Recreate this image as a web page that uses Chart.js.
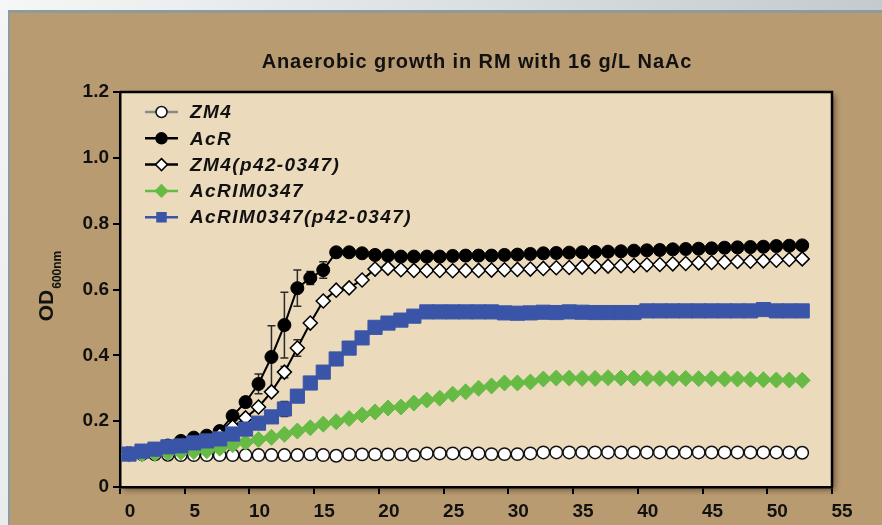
<!DOCTYPE html>
<html>
<head>
<meta charset="utf-8">
<title>Anaerobic growth in RM with 16 g/L NaAc</title>
<script src="https://cdn.jsdelivr.net/npm/chart.js@4.4.0/dist/chart.umd.min.js"></script>
<style>
  html, body { margin: 0; padding: 0; background: #b99b71; }
  #growthChart { display: block; }
</style>
</head>
<body>
<canvas id="growthChart" width="882" height="525"></canvas>
<script>
const hours = [0, 1, 2, 3, 4, 5, 6, 7, 8, 9, 10, 11, 12, 13, 14, 15, 16, 17, 18, 19, 20,
  21, 22, 23, 24, 25, 26, 27, 28, 29, 30, 31, 32, 33, 34, 35, 36, 37, 38, 39, 40,
  41, 42, 43, 44, 45, 46, 47, 48, 49, 50, 51, 52];

const seriesNames = ['ZM4', 'AcR', 'ZM4(p42-0347)', 'AcRIM0347', 'AcRIM0347(p42-0347)'];

const zm4 = [0.100, 0.100, 0.099, 0.098, 0.097, 0.097, 0.097, 0.097, 0.097, 0.097, 0.097,
  0.097, 0.097, 0.097, 0.099, 0.097, 0.095, 0.099, 0.099, 0.099, 0.099, 0.099, 0.097,
  0.102, 0.102, 0.102, 0.102, 0.102, 0.100, 0.100, 0.100, 0.102, 0.105, 0.105, 0.105,
  0.105, 0.105, 0.105, 0.105, 0.105, 0.105, 0.105, 0.105, 0.105, 0.105, 0.105, 0.105,
  0.105, 0.105, 0.105, 0.105, 0.105, 0.104];

const acr = [0.103, 0.109, 0.115, 0.126, 0.140, 0.150, 0.156, 0.170, 0.216, 0.258, 0.313,
  0.395, 0.492, 0.604, 0.635, 0.659, 0.713, 0.713, 0.710, 0.705, 0.703, 0.700, 0.700,
  0.700, 0.700, 0.702, 0.703, 0.703, 0.703, 0.705, 0.706, 0.708, 0.710, 0.711, 0.712,
  0.713, 0.714, 0.715, 0.716, 0.718, 0.719, 0.720, 0.722, 0.723, 0.724, 0.725, 0.727,
  0.728, 0.729, 0.730, 0.732, 0.733, 0.734];
const acrErr = [0, 0, 0, 0, 0, 0, 0, 0, 0.008, 0.015, 0.030, 0.095, 0.100, 0.055, 0.020,
  0.025, 0.013, 0.010, 0.008, 0.006, 0.006, 0.006, 0.006, 0.006, 0.006, 0.006, 0.006,
  0.006, 0.008, 0.008, 0.008, 0.008, 0.008, 0.010, 0.008, 0.008, 0.008, 0.008, 0.008,
  0.010, 0.008, 0.008, 0.006, 0.006, 0.006, 0.006, 0.006, 0.006, 0.006, 0.006, 0.006,
  0.006, 0.006];

const zm4p42 = [0.100, 0.106, 0.112, 0.118, 0.125, 0.132, 0.142, 0.158, 0.182, 0.210, 0.243,
  0.289, 0.349, 0.422, 0.498, 0.565, 0.598, 0.605, 0.629, 0.662, 0.665, 0.660, 0.658,
  0.658, 0.658, 0.657, 0.658, 0.658, 0.659, 0.660, 0.661, 0.662, 0.664, 0.666, 0.667,
  0.668, 0.670, 0.671, 0.672, 0.673, 0.675, 0.676, 0.678, 0.679, 0.681, 0.682, 0.683,
  0.685, 0.686, 0.687, 0.689, 0.691, 0.693];
const zm4p42Err = [0, 0, 0, 0, 0, 0, 0, 0, 0, 0, 0.006, 0.010, 0.017, 0.025, 0.010, 0.006,
  0, 0, 0, 0, 0, 0, 0, 0, 0, 0, 0, 0, 0, 0, 0, 0, 0, 0, 0, 0, 0, 0, 0, 0, 0, 0, 0, 0,
  0, 0, 0, 0, 0, 0, 0, 0, 0];

const acrim = [0.100, 0.100, 0.102, 0.104, 0.106, 0.108, 0.110, 0.118, 0.128, 0.136, 0.144,
  0.151, 0.160, 0.170, 0.180, 0.191, 0.198, 0.208, 0.219, 0.228, 0.240, 0.243, 0.255,
  0.264, 0.270, 0.282, 0.289, 0.300, 0.307, 0.316, 0.316, 0.319, 0.328, 0.331, 0.331,
  0.330, 0.330, 0.332, 0.331, 0.331, 0.330, 0.330, 0.330, 0.330, 0.329, 0.329, 0.328,
  0.328, 0.327, 0.326, 0.325, 0.325, 0.324];

const acrimp42 = [0.100, 0.109, 0.115, 0.122, 0.125, 0.134, 0.140, 0.146, 0.161, 0.176, 0.194,
  0.213, 0.237, 0.276, 0.316, 0.349, 0.389, 0.422, 0.453, 0.485, 0.498, 0.507, 0.519,
  0.532, 0.532, 0.532, 0.532, 0.532, 0.532, 0.529, 0.528, 0.529, 0.531, 0.530, 0.532,
  0.531, 0.530, 0.530, 0.530, 0.530, 0.535, 0.535, 0.535, 0.535, 0.535, 0.535, 0.535,
  0.535, 0.535, 0.539, 0.535, 0.535, 0.535];
const acrimp42Err = [0, 0, 0, 0, 0, 0, 0, 0, 0, 0, 0, 0.006, 0.023, 0.010, 0, 0, 0, 0, 0,
  0, 0, 0, 0, 0, 0, 0, 0, 0, 0, 0, 0, 0, 0, 0, 0, 0, 0, 0, 0, 0, 0, 0, 0, 0, 0, 0, 0,
  0, 0, 0, 0, 0, 0];

const yTicks = [0, 0.2, 0.4, 0.6, 0.8, 1.0, 1.2];
const xTicks = [0, 5, 10, 15, 20, 25, 30, 35, 40, 45, 50, 55];

const FONT = '"Liberation Sans", Arial, sans-serif';
const plotBg = '#ebdabb';

function toPoints(values) {
  return hours.map((h, i) => ({ x: h, y: values[i] }));
}

function makeSet(name, values, errors, look, order) {
  return Object.assign({
    label: name,
    data: toPoints(values),
    errors: errors,
    xAxisID: 'xd',
    yAxisID: 'y',
    borderWidth: 2,
    tension: 0,
    fill: false,
    order: order
  }, look);
}

const datasets = [
  makeSet(seriesNames[0], zm4, null, {
    borderColor: '#8a8a8a', pointStyle: 'circle', pointRadius: 6.2,
    pointBackgroundColor: '#ffffff', pointBorderColor: '#111111', pointBorderWidth: 1.5
  }, 5),
  makeSet(seriesNames[1], acr, acrErr, {
    borderColor: '#000000', pointStyle: 'circle', pointRadius: 6.5,
    pointBackgroundColor: '#000000', pointBorderColor: '#000000', pointBorderWidth: 1
  }, 4),
  makeSet(seriesNames[2], zm4p42, zm4p42Err, {
    borderColor: '#000000', pointStyle: 'rectRot', pointRadius: 7,
    pointBackgroundColor: '#ffffff', pointBorderColor: '#000000', pointBorderWidth: 1.5
  }, 3),
  makeSet(seriesNames[3], acrim, null, {
    borderColor: '#67bb45', pointStyle: 'rectRot', pointRadius: 8,
    pointBackgroundColor: '#67bb45', pointBorderColor: '#67bb45', pointBorderWidth: 1
  }, 2),
  makeSet(seriesNames[4], acrimp42, acrimp42Err, {
    borderColor: '#3a55a8', pointStyle: 'rect', pointRadius: 10,
    pointBackgroundColor: '#3a55a8', pointBorderColor: '#3a55a8', pointBorderWidth: 1
  }, 1)
];

function legendMarker(ctx, style, x, y, r) {
  ctx.beginPath();
  if (style === 'circle') {
    ctx.arc(x, y, r, 0, Math.PI * 2);
  } else if (style === 'rectRot') {
    ctx.moveTo(x - r, y);
    ctx.lineTo(x, y - r);
    ctx.lineTo(x + r, y);
    ctx.lineTo(x, y + r);
    ctx.closePath();
  } else {
    ctx.rect(x - r, y - r, r * 2, r * 2);
  }
  ctx.fill();
  ctx.stroke();
}

const decorPlugin = {
  id: 'decor',
  beforeDraw(chart) {
    const ctx = chart.ctx;
    const area = chart.chartArea;
    const w = chart.width;
    const h = chart.height;
    ctx.save();
    // outer frame: light strip, grey rule, brown panel
    const topGrad = ctx.createLinearGradient(0, 0, w, 0);
    topGrad.addColorStop(0, '#f6f7f7');
    topGrad.addColorStop(1, '#c3cbce');
    ctx.fillStyle = topGrad;
    ctx.fillRect(0, 0, w, h);
    const leftGrad = ctx.createLinearGradient(0, 0, 0, h);
    leftGrad.addColorStop(0, '#f4f5f5');
    leftGrad.addColorStop(1, '#e9ecec');
    ctx.fillStyle = leftGrad;
    ctx.fillRect(0, 10, 8, h);
    ctx.fillStyle = '#8d9b9c';
    ctx.fillRect(8, 10, w - 8, h - 10);
    ctx.fillStyle = '#b99b71';
    ctx.fillRect(10, 13, w - 10, h - 13);
    // plot panel with shadow
    ctx.shadowColor = 'rgba(40, 25, 10, 0.55)';
    ctx.shadowBlur = 6;
    ctx.shadowOffsetX = 3;
    ctx.shadowOffsetY = 3;
    ctx.fillStyle = plotBg;
    ctx.fillRect(area.left, area.top, area.right - area.left, area.bottom - area.top);
    ctx.restore();
  },
  beforeDatasetsDraw(chart) {
    const ctx = chart.ctx;
    const xs = chart.scales.xd;
    const ys = chart.scales.y;
    ctx.save();
    ctx.strokeStyle = '#2a2a2a';
    ctx.lineWidth = 1.5;
    chart.data.datasets.forEach((ds) => {
      if (!ds.errors) return;
      ds.data.forEach((p, i) => {
        const e = ds.errors[i];
        if (!e) return;
        const px = xs.getPixelForValue(p.x);
        const top = ys.getPixelForValue(p.y + e);
        const bot = ys.getPixelForValue(p.y - e);
        ctx.beginPath();
        ctx.moveTo(px, top);
        ctx.lineTo(px, bot);
        ctx.moveTo(px - 4, top);
        ctx.lineTo(px + 4, top);
        ctx.moveTo(px - 4, bot);
        ctx.lineTo(px + 4, bot);
        ctx.stroke();
      });
    });
    ctx.restore();
  },
  afterDraw(chart) {
    const ctx = chart.ctx;
    const area = chart.chartArea;
    ctx.save();
    // top and right frame lines
    ctx.strokeStyle = '#000';
    ctx.lineWidth = 2.5;
    ctx.beginPath();
    ctx.moveTo(area.left, area.top);
    ctx.lineTo(area.right, area.top);
    ctx.lineTo(area.right, area.bottom);
    ctx.stroke();

    // title
    ctx.fillStyle = '#111';
    ctx.font = 'bold 20px ' + FONT;
    ctx.letterSpacing = '0.9px';
    ctx.textAlign = 'center';
    ctx.textBaseline = 'middle';
    ctx.fillText('Anaerobic growth in RM with 16 g/L NaAc', (area.left + area.right) / 2 + 1, 62);
    ctx.letterSpacing = '0px';

    // y axis title with subscript
    ctx.save();
    ctx.translate(53, 286);
    ctx.rotate(-Math.PI / 2);
    ctx.textAlign = 'left';
    ctx.textBaseline = 'alphabetic';
    ctx.font = 'bold 21px ' + FONT;
    const odW = ctx.measureText('OD').width;
    ctx.font = 'bold 12px ' + FONT;
    const subW = ctx.measureText('600nm').width;
    const startX = -(odW + subW + 1) / 2;
    ctx.font = 'bold 21px ' + FONT;
    ctx.fillText('OD', startX, 0);
    ctx.font = 'bold 12px ' + FONT;
    ctx.fillText('600nm', startX + odW + 1, 8);
    ctx.restore();

    // legend: line + marker + italic label
    chart.data.datasets.forEach((ds, i) => {
      const y = 112 + i * 26.3;
      ctx.strokeStyle = ds.borderColor;
      ctx.lineWidth = 2.5;
      ctx.beginPath();
      ctx.moveTo(145, y);
      ctx.lineTo(178, y);
      ctx.stroke();
      ctx.fillStyle = ds.pointBackgroundColor;
      ctx.strokeStyle = ds.pointBorderColor;
      ctx.lineWidth = 1.5;
      const r = ds.pointStyle === 'circle' ? 5.5 : (ds.pointStyle === 'rect' ? 4.5 : 6);
      legendMarker(ctx, ds.pointStyle, 161.5, y, r);
      ctx.fillStyle = '#111';
      ctx.font = 'italic bold 19px ' + FONT;
      ctx.letterSpacing = '1.4px';
      ctx.textAlign = 'left';
      ctx.textBaseline = 'middle';
      ctx.fillText(ds.label, 190, y + 1);
      ctx.letterSpacing = '0px';
    });
    ctx.restore();
  }
};

const tickFont = { family: FONT, size: 19, weight: 'bold' };

new Chart(document.getElementById('growthChart'), {
  type: 'line',
  data: { datasets: datasets },
  options: {
    responsive: false,
    animation: false,
    events: [],
    layout: { padding: { top: 92, right: 50, left: 0, bottom: 0 } },
    plugins: {
      legend: { display: false },
      tooltip: { enabled: false },
      title: { display: false }
    },
    scales: {
      x: {
        type: 'linear',
        position: 'bottom',
        min: xTicks[0],
        max: xTicks[xTicks.length - 1],
        afterBuildTicks: (scale) => { scale.ticks = xTicks.map((v) => ({ value: v })); },
        ticks: {
          autoSkip: false,
          maxRotation: 0,
          labelOffset: 10,
          padding: 6,
          color: '#111',
          font: tickFont
        },
        grid: { drawOnChartArea: false, tickLength: 7, color: '#000', lineWidth: 2 },
        border: { color: '#000', width: 2.5 },
        afterFit: (scale) => { scale.height = 38; }
      },
      xd: {
        type: 'linear',
        display: false,
        min: -0.7,
        max: 54.3
      },
      y: {
        type: 'linear',
        min: yTicks[0],
        max: yTicks[yTicks.length - 1],
        afterBuildTicks: (scale) => { scale.ticks = yTicks.map((v) => ({ value: v })); },
        ticks: {
          padding: 4,
          color: '#111',
          font: tickFont,
          callback: (v) => (v === 0 ? '0' : Number(v).toFixed(1))
        },
        grid: { drawOnChartArea: false, tickLength: 7, color: '#000', lineWidth: 2 },
        border: { color: '#000', width: 2.5 },
        afterFit: (scale) => { scale.width = 120; }
      }
    }
  },
  plugins: [decorPlugin]
});
</script>
</body>
</html>
